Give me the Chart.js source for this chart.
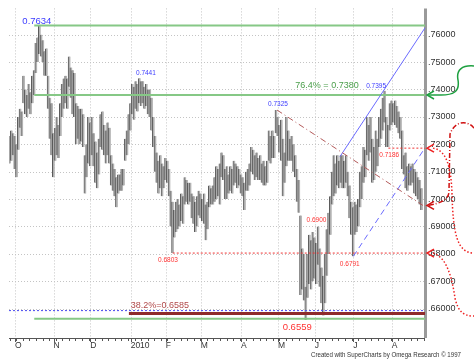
<!DOCTYPE html>
<html>
<head>
<meta charset="utf-8">
<script src="https://cdn.jsdelivr.net/npm/chart.js@4.4.1/dist/chart.umd.min.js"></script>
<style>
  html, body { margin: 0; padding: 0; background: #fff; }
  #wrap { width: 474px; height: 363px; position: relative; }
</style>
</head>
<body>
<div id="wrap"><canvas id="chart"></canvas></div>
<script>
// daily bars, index 0 = first trading day of October 2009
var firstIndex = -3;
var highs = [
  .723, .725, .724, .723, .720, .730, .733, .732, .745, .740, .738, .742, .739, .745, .747, .757, .759, .7634, .760, .758,
  .754, .755, .745, .737, .735, .724, .726, .730, .727, .735, .742, .744, .745, .744, .752, .748, .747, .746, .735, .734,
  .733, .733, .731, .716, .720, .730, .728, .730, .724, .721, .717, .722, .731, .732, .727, .725, .728, .726, .716, .713,
  .711, .708, .709, .709, .711, .711, .722, .725, .731, .735, .742, .741, .743, .742, .7441, .743, .743, .741, .742, .740,
  .740, .737, .730, .723, .717, .714, .716, .713, .712, .715, .714, .711, .703, .699, .696, .699, .700, .698, .702, .701,
  .708, .707, .706, .706, .702, .701, .699, .701, .703, .702, .700, .702, .698, .699, .705, .704, .705, .708, .712, .711,
  .713, .717, .716, .711, .712, .709, .712, .711, .714, .713, .712, .711, .709, .708, .706, .710, .711, .713, .719, .718,
  .716, .717, .715, .716, .713, .714, .712, .714, .725, .723, .725, .723, .7325, .730, .727, .729, .722, .717, .730, .725,
  .722, .723, .720, .716, .711, .707, .694, .682, .680, .668, .680, .687, .685, .688, .686, .684, .690, .682, .675, .672,
  .680, .689, .695, .701, .710, .716, .713, .716, .714, .716, .716, .714, .716, .710, .705, .699, .697, .699, .698, .700,
  .710, .712, .719, .718, .730, .727, .730, .722, .719, .725, .722, .730, .733, .737, .7395, .730, .727, .735, .736, .735,
  .736, .734, .732, .730, .725, .716, .717, .712, .713, .712, .713, .711, .710, .708, .707, .704
];
var lows = [
  .713, .714, .716, .711, .708, .718, .726, .723, .735, .731, .730, .733, .731, .735, .738, .746, .750, .753, .752, .750,
  .745, .745, .733, .722, .716, .708, .714, .716, .715, .723, .730, .733, .735, .733, .741, .737, .731, .730, .720, .722,
  .720, .721, .719, .702, .708, .713, .712, .716, .712, .706, .704, .709, .719, .718, .716, .713, .716, .713, .705, .703,
  .701, .697, .702, .703, .703, .705, .714, .716, .720, .725, .731, .729, .733, .732, .735, .734, .735, .733, .734, .731,
  .730, .725, .719, .710, .706, .702, .704, .701, .704, .707, .706, .701, .690, .6803, .686, .688, .689, .690, .692, .691,
  .698, .699, .698, .699, .693, .691, .688, .690, .694, .693, .692, .691, .685, .689, .697, .698, .698, .699, .700, .701,
  .698, .708, .707, .700, .700, .702, .703, .702, .705, .706, .704, .705, .702, .701, .696, .703, .703, .705, .710, .709,
  .707, .708, .707, .707, .706, .705, .705, .706, .714, .713, .715, .715, .724, .723, .717, .714, .701, .706, .712, .714,
  .714, .714, .710, .708, .699, .695, .665, .667, .663, .6559, .664, .669, .667, .670, .671, .669, .676, .668, .662, .6575,
  .662, .672, .680, .687, .698, .701, .702, .705, .704, .706, .704, .704, .706, .701, .693, .687, .6791, .687, .688, .690,
  .697, .700, .706, .708, .716, .714, .717, .706, .707, .710, .712, .719, .722, .725, .728, .719, .719, .725, .727, .728,
  .727, .726, .724, .722, .711, .709, .704, .703, .705, .705, .706, .702, .701, .700, .698, .696
];
var monthStarts = [0, 22, 43, 66, 86, 106, 129, 150, 171, 193, 215];
var monthLabels = ["O", "N", "D", "2010", "F", "M", "A", "M", "J", "J", "A"];
var priceTicks = [0.66, 0.67, 0.68, 0.69, 0.70, 0.71, 0.72, 0.73, 0.74, 0.75, 0.76];

// horizontal levels: price, first bar index
var levels = [
  { price: 0.7634, from: 11, color: "#86c886", width: 2, dash: [] },
  { price: 0.7380, from: 11, color: "#86c886", width: 2, dash: [] },
  { price: 0.6563, from: 11, color: "#86c886", width: 2, dash: [] },
  { price: 0.6593, from: -4, color: "#4a4aee", width: 1, dash: [2, 2] },
  { price: 0.6582, from: 65, color: "#8e2b2b", width: 3, dash: [] },
  { price: 0.6803, from: 90, color: "#ee3333", width: 1, dash: [2, 2] },
  { price: 0.7186, from: 213, color: "#ee3333", width: 1, dash: [2, 2] }
];
// trend lines: [index, price] -> [index, price]
var trends = [
  { a: [185.4, 0.7155], b: [233.9, 0.7625], color: "#6a6aff", dash: [] },
  { a: [193, 0.6791], b: [233.9, 0.7187], color: "#6a6aff", dash: [6, 4] },
  { a: [149.5, 0.7325], b: [232.7, 0.6977], color: "#b35a5a", dash: [6, 3, 1, 3] }
];
var notes = [
  { text: "0.7634", i: 12.5, p: 0.7650, color: "#3c3cff", size: 9.5 },
  { text: "0.7441", i: 74.7, p: 0.7461, color: "#3c3cff", size: 6.5 },
  { text: "0.7325", i: 150, p: 0.7347, color: "#3c3cff", size: 6.5 },
  { text: "0.7395", i: 206, p: 0.7413, color: "#3c3cff", size: 6.5 },
  { text: "76.4% = 0.7380", i: 178, p: 0.7413, color: "#4a9e4a", size: 9 },
  { text: "0.7186", i: 213.5, p: 0.7162, color: "#ff3333", size: 6.5 },
  { text: "0.6900", i: 172, p: 0.6924, color: "#ff3333", size: 6.5 },
  { text: "0.6791", i: 191, p: 0.6764, color: "#ff3333", size: 6.5 },
  { text: "0.6803", i: 87.3, p: 0.6778, color: "#ff3333", size: 6.5 },
  { text: "0.6559", i: 161, p: 0.6532, color: "#ff3333", size: 9.5 },
  { text: "38.2%=0.6585", i: 82.7, p: 0.6611, color: "#b04848", size: 9 }
];

var FONT = "'Liberation Sans', Arial, sans-serif";

function stroke(ctx, pts, color, width, dash) {
  ctx.save();
  ctx.strokeStyle = color;
  ctx.lineWidth = width;
  ctx.setLineDash(dash || []);
  ctx.beginPath();
  ctx.moveTo(pts[0][0], pts[0][1]);
  for (var k = 1; k < pts.length; k++) ctx.lineTo(pts[k][0], pts[k][1]);
  ctx.stroke();
  ctx.restore();
}

function arrowHead(ctx, x, y, color) {
  stroke(ctx, [[x + 7, y - 4], [x, y], [x + 7, y + 4]], color, 1.5, []);
}

var overlay = {
  id: "overlay",
  beforeDatasetsDraw: function (chart) {
    var ctx = chart.ctx, a = chart.chartArea;
    var xs = chart.scales.x, ys = chart.scales.y;
    ctx.save();
    ctx.strokeStyle = "#c4c4c4";
    ctx.lineWidth = 1;
    ctx.setLineDash([1, 2]);
    priceTicks.forEach(function (v) {
      var y = Math.round(ys.getPixelForValue(v)) + 0.5;
      ctx.beginPath(); ctx.moveTo(a.left, y); ctx.lineTo(a.right, y); ctx.stroke();
    });
    monthStarts.forEach(function (m) {
      var x = Math.round(xs.getPixelForValue(m)) + 0.5;
      ctx.beginPath(); ctx.moveTo(x, a.top); ctx.lineTo(x, a.bottom); ctx.stroke();
    });
    ctx.restore();
  },
  afterDatasetsDraw: function (chart) {
    var ctx = chart.ctx, a = chart.chartArea;
    var xs = chart.scales.x, ys = chart.scales.y;
    var px = function (i) { return xs.getPixelForValue(i); };
    var py = function (p) { return ys.getPixelForValue(p); };

    // axes
    stroke(ctx, [[a.left, a.bottom + 0.5], [a.right, a.bottom + 0.5]], "#555", 1, []);
    for (var t = -3; t < 234; t += 3.75) {
      var tx = Math.round(px(t)) + 0.5;
      stroke(ctx, [[tx, a.bottom], [tx, a.bottom + 3]], "#555", 1, []);
    }
    monthStarts.forEach(function (m) {
      var mx = Math.round(px(m)) + 0.5;
      stroke(ctx, [[mx, a.bottom], [mx, a.bottom + 4]], "#555", 1, []);
    });
    stroke(ctx, [[a.right + 0.5, a.top], [a.right + 0.5, a.bottom]], "#9a9a9a", 3, []);

    levels.forEach(function (l) {
      var y = py(l.price);
      stroke(ctx, [[Math.max(px(l.from), a.left), y], [a.right, y]], l.color, l.width, l.dash);
    });
    trends.forEach(function (t) {
      stroke(ctx, [[px(t.a[0]), py(t.a[1])], [px(t.b[0]), py(t.b[1])]], t.color, 1, t.dash);
    });

    notes.forEach(function (n) {
      ctx.save();
      ctx.font = n.size + "px " + FONT;
      ctx.fillStyle = n.color;
      ctx.textAlign = "center";
      ctx.textBaseline = "middle";
      ctx.fillText(n.text, px(n.i), py(n.p));
      ctx.restore();
    });

    // hand drawn marks right of the price axis
    var R = a.right;
    var yG = py(0.7380), yA = py(0.7186), yB = py(0.6977), yC = py(0.6803);
    ctx.save();
    ctx.strokeStyle = "#1ea040";
    ctx.lineWidth = 1.5;
    ctx.beginPath();
    ctx.moveTo(R + 49, yG - 29);
    ctx.bezierCurveTo(R + 37, yG - 30, R + 31, yG - 25, R + 33, yG - 15);
    ctx.bezierCurveTo(R + 35, yG - 3, R + 28, yG, R + 16, yG);
    ctx.lineTo(R + 2, yG);
    ctx.stroke();
    ctx.restore();
    arrowHead(ctx, R + 2, yG, "#1ea040");

    ctx.save();
    ctx.strokeStyle = "#d01010";
    ctx.lineWidth = 1.5;
    ctx.setLineDash([5, 2, 1, 2]);
    ctx.beginPath();
    ctx.moveTo(R + 49, yA - 20);
    ctx.bezierCurveTo(R + 43, yA - 28, R + 30, yA - 28, R + 25, yA - 14);
    ctx.lineTo(R + 24, yB - 14);
    ctx.bezierCurveTo(R + 24, yB - 6, R + 16, yB - 2, R + 3, yB);
    ctx.stroke();
    ctx.restore();
    arrowHead(ctx, R + 2, yB, "#d01010");

    ctx.save();
    ctx.strokeStyle = "#ee2222";
    ctx.lineWidth = 1.5;
    ctx.setLineDash([1.5, 2]);
    ctx.beginPath();
    ctx.moveTo(R + 8, yA);
    ctx.bezierCurveTo(R + 22, yA + 2, R + 26, yA + 20, R + 27, yA + 45);
    ctx.bezierCurveTo(R + 28, yC - 20, R + 32, yC, R + 49, yC);
    ctx.moveTo(R + 8, yC);
    ctx.bezierCurveTo(R + 22, yC + 4, R + 27, yC + 25, R + 30, yC + 45);
    ctx.bezierCurveTo(R + 33, yC + 58, R + 38, yC + 63, R + 49, yC + 63);
    ctx.stroke();
    ctx.restore();
    arrowHead(ctx, R + 2, yA, "#ee2222");
    arrowHead(ctx, R + 2, yC, "#ee2222");

    ctx.save();
    ctx.font = "7px " + FONT;
    ctx.fillStyle = "#333";
    ctx.textAlign = "right";
    ctx.textBaseline = "middle";
    ctx.fillText("Created with SuperCharts by Omega Research \u00a9 1997", 461, 355, 150);
    ctx.restore();
  }
};

var bars = highs.map(function (h, k) {
  return { x: firstIndex + k, y: [lows[k], h] };
});

new Chart(document.getElementById("chart"), {
  type: "bar",
  data: {
    datasets: [{
      data: bars,
      backgroundColor: "#b2b2b2",
      borderColor: "#5a5a5a",
      borderWidth: { left: 1, right: 0, top: 0, bottom: 0 },
      borderSkipped: false,
      barThickness: 2.4
    }]
  },
  options: {
    responsive: true,
    maintainAspectRatio: false,
    animation: false,
    events: [],
    layout: { padding: { left: 9, top: 0, right: 0, bottom: 0 } },
    plugins: { legend: { display: false }, tooltip: { enabled: false } },
    scales: {
      x: {
        type: "linear",
        min: -3.4,
        max: 233.9,
        offset: false,
        grid: { display: false, drawTicks: false },
        border: { display: false },
        afterBuildTicks: function (s) {
          s.ticks = monthStarts.map(function (m) { return { value: m }; });
        },
        afterFit: function (s) { s.height = 25; },
        ticks: {
          autoSkip: false,
          maxRotation: 0,
          align: "start",
          padding: 3,
          color: "#333",
          font: { family: FONT, size: 8.5 },
          callback: function (v) {
            var k = monthStarts.indexOf(v);
            return k < 0 ? "" : monthLabels[k];
          }
        }
      },
      y: {
        position: "right",
        min: 0.6493,
        max: 0.7696,
        grid: { display: false, drawTicks: false },
        border: { display: false },
        afterBuildTicks: function (s) {
          s.ticks = priceTicks.map(function (v) { return { value: v }; });
        },
        afterFit: function (s) { s.width = 49; },
        ticks: {
          padding: 3,
          crossAlign: "near",
          color: "#333",
          font: { family: FONT, size: 9 },
          callback: function (v) { return "." + Math.round(v * 100000); }
        }
      }
    }
  },
  plugins: [overlay]
});
</script>
</body>
</html>
